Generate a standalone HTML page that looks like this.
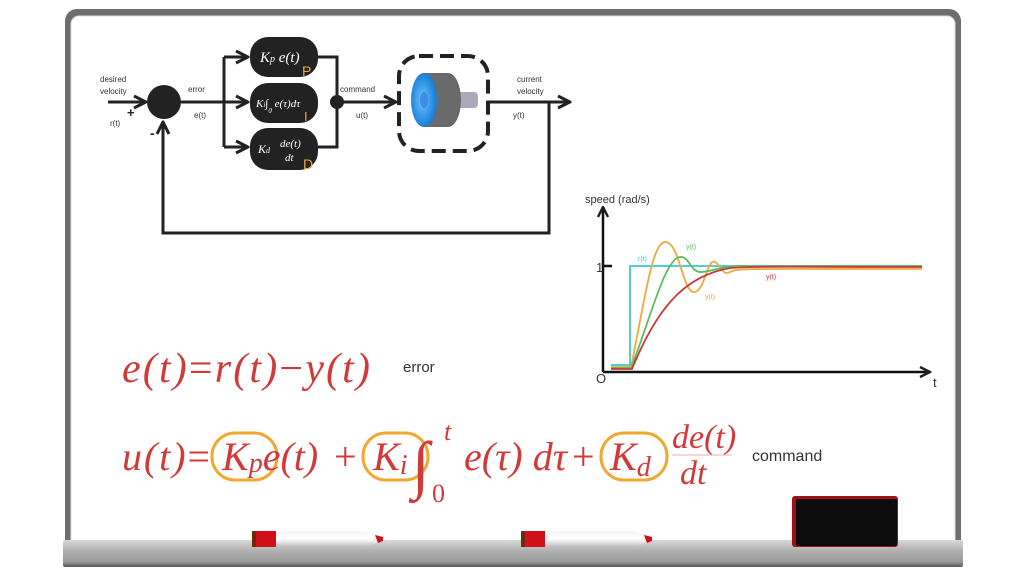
<!DOCTYPE html>
<html><head><meta charset="utf-8"><style>
html,body{margin:0;padding:0;background:#fff;}
svg{display:block;}
.s{font-family:"Liberation Sans",sans-serif;fill:#333;}
.m{font-family:"Liberation Serif",serif;font-style:italic;fill:#d23a3a;}
.w{font-family:"Liberation Serif",serif;font-style:italic;fill:#fff;}
</style></head><body>
<svg width="1024" height="576" viewBox="0 0 1024 576" xmlns="http://www.w3.org/2000/svg">
<defs>
<linearGradient id="tray" x1="0" y1="0" x2="0" y2="1">
<stop offset="0" stop-color="#d8d8d8"/><stop offset="0.4" stop-color="#b0b0b0"/><stop offset="0.8" stop-color="#9a9a9a"/><stop offset="1" stop-color="#555"/></linearGradient>
<linearGradient id="pen" x1="0" y1="0" x2="0" y2="1">
<stop offset="0" stop-color="#f5f5f5"/><stop offset="0.5" stop-color="#fff"/><stop offset="1" stop-color="#bbb"/></linearGradient>
<radialGradient id="wh" cx="0.45" cy="0.5" r="0.5"><stop offset="0" stop-color="#6cc3ff"/><stop offset="1" stop-color="#1a7fd8"/></radialGradient>
<marker id="ar" viewBox="0 0 10 10" refX="9" refY="5" markerWidth="5" markerHeight="5" orient="auto"><path d="M1,1 L9,5 L1,9" fill="none" stroke="#222" stroke-width="2"/></marker>
</defs>
<rect x="65" y="9" width="896" height="545" rx="12" fill="#6e6e6e"/>
<rect x="71" y="16" width="884" height="535" rx="8" fill="#fff" stroke="#ddd" stroke-width="1"/>
<rect x="63" y="540" width="900" height="27" rx="2" fill="url(#tray)"/>
<g stroke="#222" stroke-width="3" fill="none">
<line x1="108" y1="102" x2="146" y2="102" marker-end="url(#ar)"/>
<line x1="181" y1="102" x2="224" y2="102"/>
<path d="M224,57 V147"/>
<line x1="224" y1="57" x2="248" y2="57" marker-end="url(#ar)"/>
<line x1="224" y1="102" x2="248" y2="102" marker-end="url(#ar)"/>
<line x1="224" y1="147" x2="248" y2="147" marker-end="url(#ar)"/>
<path d="M318,57 H337 V147 H318"/>
<line x1="337" y1="102" x2="396" y2="102" marker-end="url(#ar)"/>
<line x1="488" y1="102" x2="570" y2="102" marker-end="url(#ar)"/>
<path d="M549,102 V233 H163 V122" marker-end="url(#ar)"/>
<rect x="399" y="56" width="89" height="95" rx="20" stroke-width="4" stroke-dasharray="14,7"/>
</g>
<circle cx="164" cy="102" r="17" fill="#222"/>
<circle cx="337" cy="102" r="7" fill="#222"/>
<rect x="250" y="37" width="68" height="40" rx="18" fill="#222"/>
<rect x="250" y="83" width="68" height="40" rx="18" fill="#222"/>
<rect x="250" y="128" width="68" height="42" rx="18" fill="#222"/>
<text class="w" x="260" y="62" font-size="15">K<tspan font-size="10">p</tspan> e(t)</text>
<text x="302" y="76" font-family="Liberation Sans" font-size="14" fill="#f0a830">P</text>
<text class="w" x="256" y="107" font-size="11">K<tspan font-size="7">i</tspan>∫<tspan font-size="7" dy="6">0</tspan><tspan dy="-6"> e(τ)dτ</tspan></text>
<text x="304" y="121" font-family="Liberation Sans" font-size="13" fill="#f0a830">I</text>
<text class="w" x="258" y="153" font-size="12">K<tspan font-size="8">d</tspan></text>
<text class="w" x="280" y="147" font-size="11">de(t)</text>
<text class="w" x="285" y="161" font-size="11">dt</text>
<text x="303" y="169" font-family="Liberation Sans" font-size="14" fill="#f0a830">D</text>
<!-- wheel -->
<rect x="456" y="92" width="22" height="16" rx="4" fill="#aab"/>
<ellipse cx="448" cy="100" rx="13" ry="27" fill="#6a6a6a"/>
<rect x="423" y="73" width="25" height="54" fill="#6a6a6a"/>
<ellipse cx="424" cy="100" rx="13" ry="27" fill="url(#wh)"/>
<ellipse cx="424" cy="100" rx="4" ry="8" fill="#3a8ee0"/>
<g class="s" font-size="8">
<text x="100" y="82">desired</text><text x="100" y="94">velocity</text>
<text x="110" y="126">r(t)</text>
<text x="188" y="92">error</text><text x="194" y="118">e(t)</text>
<text x="340" y="92">command</text><text x="356" y="118">u(t)</text>
<text x="517" y="82">current</text><text x="517" y="94">velocity</text>
<text x="513" y="118">y(t)</text>
</g>
<text x="127" y="117" font-family="Liberation Sans" font-size="13" font-weight="bold" fill="#222">+</text>
<text x="150" y="138" font-family="Liberation Sans" font-size="14" font-weight="bold" fill="#222">-</text>
<g stroke="#111" stroke-width="2.5" fill="none">
<line x1="603" y1="372" x2="603" y2="207" marker-end="url(#ar)"/>
<line x1="603" y1="372" x2="930" y2="372" marker-end="url(#ar)"/>
<line x1="603" y1="266" x2="612" y2="266"/>
</g>
<text class="s" x="585" y="203" font-size="11">speed (rad/s)</text>
<text class="s" x="596" y="272" font-size="13">1</text>
<text class="s" x="596" y="383" font-size="13">O</text>
<text class="s" x="933" y="387" font-size="13">t</text>
<g fill="none" stroke-width="1.8">
<path d="M611,365 H630 V266 H922" stroke="#3cc8d0"/>
<path d="M611,367 H631 C645,300 652,240 666,242 C680,244 683,295 695,292 C705,290 707,258 715,262 C722,266 722,276 730,272 C738,268 745,269 922,269" stroke="#f0a840"/>
<path d="M611,368 H631 C650,320 665,258 680,257 C690,256 690,273 702,272 C715,271 720,266 740,266 H922" stroke="#5cbd5c"/>
<path d="M611,369 H632 C660,300 690,275 730,268 C760,266 790,267 922,267" stroke="#c83838"/>
</g>
<g font-family="Liberation Sans" font-size="7">
<text x="638" y="261" fill="#3cc8d0">r(t)</text>
<text x="686" y="249" fill="#5cbd5c">y(t)</text>
<text x="705" y="299" fill="#f0a840">y(t)</text>
<text x="766" y="279" fill="#c83838">y(t)</text>
</g>
<text class="m" x="122" y="382" font-size="42" textLength="248" lengthAdjust="spacing">e(t)<tspan font-style="normal">=</tspan>r(t)<tspan font-style="normal">−</tspan>y(t)</text>
<text class="s" x="403" y="372" font-size="15">error</text>
<g fill="none" stroke="#f0a830" stroke-width="3">
<rect x="212" y="433" width="65" height="47" rx="23"/>
<rect x="363" y="433" width="65" height="47" rx="23"/>
<rect x="601" y="433" width="66" height="47" rx="23"/>
</g>
<text class="m" x="122" y="470" font-size="40" textLength="88" lengthAdjust="spacing">u(t)<tspan font-style="normal">=</tspan></text>
<text class="m" x="222" y="470" font-size="40">K<tspan font-size="28" dy="2">p</tspan><tspan dy="-2">e(t)</tspan></text>
<text x="334" y="470" font-family="Liberation Serif" font-size="40" fill="#d23a3a">+</text>
<text class="m" x="373" y="470" font-size="40">K<tspan font-size="28" dy="4">i</tspan></text>
<text x="412" y="486" font-family="Liberation Serif" font-size="64" fill="#d23a3a">∫</text>
<text class="m" x="444" y="440" font-size="26">t</text>
<text x="432" y="502" font-family="Liberation Serif" font-size="26" fill="#d23a3a">0</text>
<text class="m" x="464" y="470" font-size="40">e(τ) dτ</text>
<text x="572" y="470" font-family="Liberation Serif" font-size="40" fill="#d23a3a">+</text>
<text class="m" x="610" y="470" font-size="40">K<tspan font-size="28" dy="6">d</tspan></text>
<text class="m" x="672" y="448" font-size="34">de(t)</text>
<line x1="672" y1="455" x2="732" y2="455" stroke="#e8b0b0" stroke-width="1"/>
<text class="m" x="680" y="484" font-size="34">dt</text>
<text class="s" x="752" y="461" font-size="16">command</text>
<g>
<polygon points="252,531 365,531 383,537 383,541 365,547 252,547" fill="url(#pen)"/>
<rect x="252" y="531" width="24" height="16" fill="#d0101a"/>
<rect x="252" y="531" width="4" height="16" fill="#6b2a10"/>
<polygon points="375,535 383,537 383,541 378,543" fill="#d0101a"/>
<polygon points="521,531 634,531 652,537 652,541 634,547 521,547" fill="url(#pen)"/>
<rect x="521" y="531" width="24" height="16" fill="#d0101a"/>
<rect x="521" y="531" width="4" height="16" fill="#6b2a10"/>
<polygon points="644,535 652,537 652,541 647,543" fill="#d0101a"/>
</g>
<rect x="792" y="496" width="106" height="51" rx="3" fill="#a01018"/>
<rect x="796" y="499" width="101" height="47" rx="2" fill="#0c0c0c"/>
</svg>
</body></html>
